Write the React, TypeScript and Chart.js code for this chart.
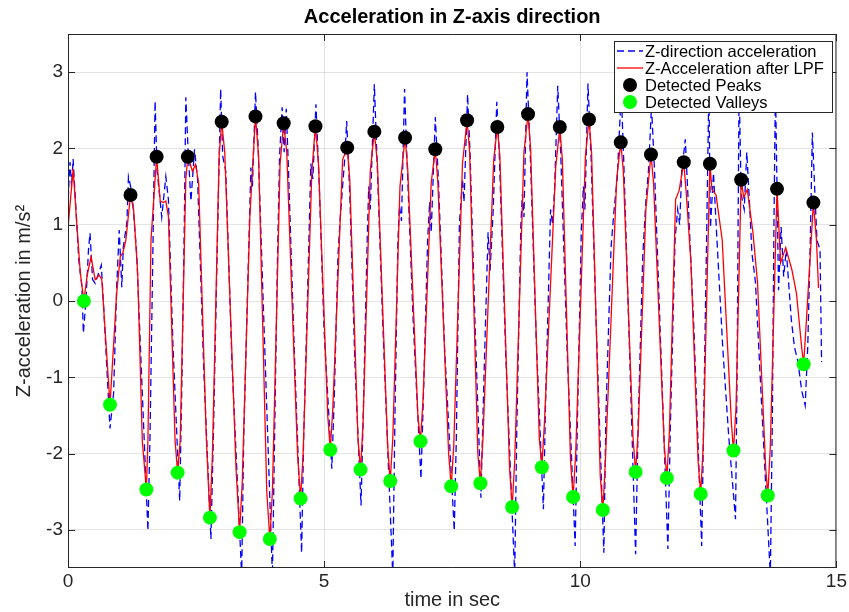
import React, { useEffect, useRef } from "react";
import { Chart, registerables } from "chart.js";

Chart.register(...registerables);

const FONT = '"Liberation Sans", Arial, Helvetica, sans-serif';
const AXIS_COLOR = "#262626";
const GRID_COLOR = "rgba(38,38,38,0.13)";

const chartTitle = "Acceleration in Z-axis direction";
const xLabel = "time in sec";
const yLabel = "Z-acceleration in m/s²";

const xTicks = [0, 5, 10, 15];
const yTicks = [-3, -2, -1, 0, 1, 2, 3];

// Raw Z-direction acceleration (dashed blue)
const rawTime = [
  0.0, 0.02, 0.04, 0.07, 0.1, 0.17, 0.21, 0.27, 0.3, 0.35, 0.4, 0.43, 0.48, 0.53, 0.6, 0.65, 0.69, 0.76, 0.82, 0.89,
  0.95, 1.0, 1.05, 1.08, 1.15, 1.18, 1.25, 1.34, 1.45, 1.56, 1.6, 1.66, 1.7, 1.74, 1.83, 1.91, 1.96, 2.05, 2.18, 2.22,
  2.27, 2.3, 2.35, 2.4, 2.47, 2.53, 2.65, 2.79, 2.84, 2.92, 2.98, 3.02, 3.08, 3.2, 3.39, 3.43, 3.52, 3.57, 3.6, 3.66,
  3.71, 3.8, 3.99, 4.03, 4.09, 4.13, 4.18, 4.22, 4.26, 4.3, 4.42, 4.56, 4.6, 4.68, 4.74, 4.78, 4.84, 4.9, 5.0, 5.15,
  5.2, 5.27, 5.31, 5.36, 5.4, 5.44, 5.5, 5.6, 5.72, 5.77, 5.84, 5.87, 5.9, 5.98, 6.03, 6.15, 6.34, 6.38, 6.44, 6.47,
  6.51, 6.57, 6.62, 6.74, 6.89, 6.94, 7.02, 7.06, 7.09, 7.17, 7.23, 7.35, 7.54, 7.58, 7.64, 7.7, 7.73, 7.8, 7.85, 7.95,
  8.06, 8.12, 8.2, 8.24, 8.3, 8.37, 8.42, 8.55, 8.72, 8.76, 8.84, 8.87, 8.9, 8.96, 9.02, 9.14, 9.28, 9.32, 9.42, 9.46,
  9.5, 9.56, 9.62, 9.74, 9.9, 9.94, 10.02, 10.06, 10.09, 10.15, 10.21, 10.32, 10.46, 10.5, 10.6, 10.66, 10.72, 10.8, 10.85, 10.95,
  11.08, 11.13, 11.22, 11.28, 11.33, 11.39, 11.45, 11.56, 11.71, 11.76, 11.85, 11.9, 11.94, 11.98, 12.05, 12.1, 12.22, 12.37, 12.41, 12.47,
  12.51, 12.54, 12.6, 12.66, 12.78, 12.9, 13.03, 13.06, 13.1, 13.14, 13.2, 13.25, 13.31, 13.35, 13.42, 13.55, 13.71, 13.75, 13.78, 13.81,
  13.87, 13.92, 13.97, 14.02, 14.12, 14.18, 14.25, 14.32, 14.39, 14.44, 14.49, 14.53, 14.58, 14.62, 14.68, 14.71,
];
const rawAccel = [
  1.2, 1.59, 1.82, 1.5, 1.86, 1.03, 0.54, 0.2, -0.42, 0.0, 0.67, 0.89, 0.28, 0.23, 0.37, 0.47, 0.0, -0.9, -1.67, -1.21,
  0.18, 0.93, 0.18, 0.71, 1.03, 1.63, 1.42, 0.63, -1.2, -3.01, -1.8, 0.8, 2.62, 1.7, 1.1, 1.63, 1.33, -0.6, -2.62, -1.2,
  1.0, 2.67, 1.9, 1.31, 1.99, 1.59, -0.9, -3.12, -1.7, 0.9, 2.78, 1.9, 1.7, -0.8, -3.6, -1.8, 0.5, 1.75, 1.5, 2.74,
  2.05, 0.2, -3.6, -1.9, 0.6, 1.9, 2.54, 1.95, 2.52, 1.8, -0.7, -3.3, -1.8, 0.2, 1.8, 1.6, 2.58, 1.6, -0.4, -2.2,
  -1.2, 0.6, 1.05, 1.5, 1.85, 2.36, 1.4, -0.8, -2.68, -1.3, 0.8, 1.5, 1.2, 2.84, 1.9, -0.4, -3.6, -1.6, 0.8, 1.25,
  1.05, 2.78, 1.8, -0.3, -2.33, -1.2, 0.8, 1.3, 0.9, 2.41, 1.6, -0.6, -3.01, -1.8, 1.0, 1.6, 1.3, 2.71, 1.9, -0.4,
  -2.58, -1.0, 0.9, 0.4, 1.2, 2.61, 1.9, -0.8, -3.6, -1.7, 1.0, 1.4, 1.1, 3.0, 2.0, -0.5, -2.73, -1.4, 1.2, 1.0,
  1.5, 2.82, 1.9, -0.6, -3.21, -1.7, 0.9, 1.5, 1.2, 2.85, 1.9, -0.5, -3.3, -1.5, 0.7, 1.2, 1.6, 2.75, 1.8, -0.4,
  -3.32, -1.6, 0.6, 1.3, 1.7, 2.55, 1.7, -0.4, -3.25, -1.6, 0.8, 1.2, 1.0, 1.7, 2.12, 1.4, -0.4, -3.21, -1.5, 1.0,
  2.8, 0.96, 1.68, 0.9, -0.6, -1.8, -2.86, -1.0, 2.85, 1.4, 1.2, 1.95, 1.2, 0.63, 0.24, -1.5, -3.6, -1.5, 1.0, 2.82,
  0.14, 0.97, 0.32, 0.67, -0.25, -0.6, -0.8, -1.17, -1.37, -0.6, 0.8, 2.21, 1.4, 0.8, 0.67, -0.8,
];

// Low-pass filtered acceleration (solid red)
const lpfTime = [
  0.0, 0.1, 0.17, 0.24, 0.31, 0.37, 0.45, 0.53, 0.61, 0.66, 0.82, 0.95, 1.02, 1.07, 1.13, 1.22, 1.28, 1.36, 1.45, 1.53,
  1.56, 1.62, 1.73, 1.8, 1.86, 1.91, 1.96, 2.09, 2.14, 2.19, 2.3, 2.34, 2.43, 2.49, 2.55, 2.7, 2.77, 2.82, 2.95, 3.0,
  3.06, 3.28, 3.35, 3.4, 3.55, 3.59, 3.66, 3.72, 3.88, 3.94, 3.99, 4.14, 4.21, 4.27, 4.48, 4.54, 4.59, 4.76, 4.83, 4.89,
  5.07, 5.12, 5.17, 5.36, 5.45, 5.5, 5.66, 5.71, 5.76, 5.9, 5.98, 6.04, 6.24, 6.29, 6.34, 6.48, 6.58, 6.63, 6.83, 6.88,
  6.93, 7.09, 7.17, 7.22, 7.43, 7.48, 7.53, 7.7, 7.79, 7.84, 8.0, 8.05, 8.1, 8.31, 8.38, 8.43, 8.62, 8.67, 8.72, 8.9,
  8.98, 9.03, 9.2, 9.25, 9.3, 9.52, 9.6, 9.65, 9.81, 9.86, 9.91, 10.1, 10.17, 10.22, 10.39, 10.44, 10.49, 10.71, 10.79, 10.84,
  11.03, 11.08, 11.13, 11.28, 11.38, 11.43, 11.64, 11.69, 11.74, 11.86, 11.93, 12.02, 12.07, 12.16, 12.3, 12.35, 12.4, 12.53, 12.57, 12.65,
  12.77, 12.95, 12.99, 13.04, 13.14, 13.19, 13.26, 13.37, 13.46, 13.62, 13.66, 13.71, 13.84, 13.91, 14.01, 14.13, 14.22, 14.32, 14.36, 14.41,
  14.55, 14.61, 14.65,
];
const lpfAccel = [
  0.95, 1.73, 1.03, 0.37, 0.0, 0.32, 0.58, 0.28, 0.34, 0.28, -1.36, 0.1, 0.58, 0.63, 0.8, 1.39, 1.2, 0.37, -1.83, -2.47,
  -1.83, 0.8, 1.89, 1.31, 1.29, 1.31, 1.11, -1.83, -2.25, -1.83, 1.6, 1.89, 1.7, 1.79, 1.55, -1.8, -2.84, -2.0, 1.9, 2.35,
  1.95, -2.2, -3.03, -2.4, 1.1, 1.6, 2.42, 1.9, -2.5, -3.12, -2.5, 1.8, 2.33, 1.95, -2.0, -2.59, -2.0, 1.7, 2.29, 1.8,
  -1.5, -1.95, -1.4, 1.85, 2.01, 1.6, -1.8, -2.21, -1.6, 1.7, 2.22, 1.8, -1.9, -2.36, -1.8, 1.5, 2.14, 1.75, -1.5, -1.84,
  -1.3, 1.55, 1.99, 1.55, -2.0, -2.43, -1.9, 1.8, 2.37, 1.95, -2.0, -2.39, -1.8, 1.85, 2.28, 1.9, -2.2, -2.7, -2.1, 1.95,
  2.45, 2.0, -1.8, -2.18, -1.6, 1.75, 2.28, 1.85, -2.1, -2.57, -2.0, 1.9, 2.38, 1.95, -2.3, -2.74, -2.1, 1.6, 2.08, 1.7,
  -1.8, -2.24, -1.7, 1.2, 1.92, 1.55, -1.9, -2.32, -1.7, 1.33, 1.45, 1.82, 1.4, 0.5, -2.1, -2.53, -1.9, 1.8, 1.46, 1.39,
  0.8, -1.6, -1.96, -1.4, 1.59, 1.36, 1.46, 0.9, 0.24, -2.2, -2.55, -1.9, 1.47, 0.5, 0.7, 0.41, 0.1, -0.6, -0.83, -0.3,
  1.29, 0.8, 0.17,
];

// Detected extrema of the filtered signal
const peakTime = [
  1.22, 1.73, 2.34, 3.0, 3.66, 4.21, 4.83, 5.45, 5.98, 6.58, 7.17, 7.79, 8.38, 8.98, 9.6, 10.17, 10.79, 11.38, 12.02, 12.53,
  13.14, 13.84, 14.55,
];
const peakAccel = [
  1.39, 1.89, 1.89, 2.35, 2.42, 2.33, 2.29, 2.01, 2.22, 2.14, 1.99, 2.37, 2.28, 2.45, 2.28, 2.38, 2.08, 1.92, 1.82, 1.8,
  1.59, 1.47, 1.29,
];
const valleyTime = [
  0.31, 0.82, 1.53, 2.14, 2.77, 3.35, 3.94, 4.54, 5.12, 5.71, 6.29, 6.88, 7.48, 8.05, 8.67, 9.25, 9.86, 10.44, 11.08, 11.69,
  12.35, 12.99, 13.66, 14.36,
];
const valleyAccel = [
  0.0, -1.36, -2.47, -2.25, -2.84, -3.03, -3.12, -2.59, -1.95, -2.21, -2.36, -1.84, -2.43, -2.39, -2.7, -2.18, -2.57, -2.74, -2.24, -2.32,
  -2.53, -1.96, -2.55, -0.83,
];

const toPoints = (xs: number[], ys: number[]) => xs.map((x, i) => ({ x, y: ys[i] }));

// MATLAB-style axes box with inward ticks, legend box and title
const framePlugin = {
  id: "frame",
  afterDatasetsDraw(chart: any) {
    const { ctx, chartArea: a, scales } = chart;
    const sx = scales.x;
    const sy = scales.y;
    ctx.save();
    ctx.strokeStyle = AXIS_COLOR;
    ctx.lineWidth = 1;
    ctx.setLineDash([]);
    ctx.beginPath();
    ctx.rect(a.left + 0.5, a.top + 0.5, a.right - a.left - 1, a.bottom - a.top - 1);
    const L = 7;
    sx.ticks.forEach((t: any) => {
      const px = Math.round(sx.getPixelForValue(t.value)) + 0.5;
      ctx.moveTo(px, a.bottom);
      ctx.lineTo(px, a.bottom - L);
      ctx.moveTo(px, a.top);
      ctx.lineTo(px, a.top + L);
    });
    sy.ticks.forEach((t: any) => {
      const py = Math.round(sy.getPixelForValue(t.value)) + 0.5;
      ctx.moveTo(a.left, py);
      ctx.lineTo(a.left + L, py);
      ctx.moveTo(a.right, py);
      ctx.lineTo(a.right - L, py);
    });
    ctx.stroke();

    // legend
    const ds = chart.data.datasets;
    const order = [3, 2, 0, 1];
    const lx = 614;
    const ly = 41;
    const lw = 218;
    const lh = 71;
    ctx.fillStyle = "#ffffff";
    ctx.fillRect(lx, ly, lw, lh);
    ctx.strokeStyle = AXIS_COLOR;
    ctx.strokeRect(lx + 0.5, ly + 0.5, lw, lh);
    ctx.font = `16.5px ${FONT}`;
    ctx.textBaseline = "middle";
    ctx.textAlign = "left";
    order.forEach((di, row) => {
      const d = ds[di];
      const cy = ly + 10 + row * 17;
      if (d.showLine === false) {
        ctx.beginPath();
        ctx.fillStyle = d.backgroundColor;
        ctx.arc(lx + 16, cy, 7, 0, Math.PI * 2);
        ctx.fill();
      } else {
        ctx.beginPath();
        ctx.strokeStyle = d.borderColor;
        ctx.lineWidth = d.borderWidth;
        ctx.setLineDash(d.borderDash || []);
        ctx.moveTo(lx + 3, cy);
        ctx.lineTo(lx + 29, cy);
        ctx.stroke();
        ctx.setLineDash([]);
      }
      ctx.fillStyle = "#000000";
      ctx.fillText(d.label, lx + 31, cy + 1);
    });
    ctx.restore();
  },
  afterDraw(chart: any) {
    const { ctx, chartArea: a } = chart;
    ctx.save();
    ctx.font = `bold 20px ${FONT}`;
    ctx.fillStyle = "#000000";
    ctx.textAlign = "center";
    ctx.textBaseline = "middle";
    ctx.fillText(chartTitle, (a.left + a.right) / 2, 17);
    ctx.restore();
  },
};

export default function App() {
  const canvasRef = useRef<HTMLCanvasElement | null>(null);

  useEffect(() => {
    const canvas = canvasRef.current;
    if (!canvas) return;
    const chart = new Chart(canvas, {
      type: "line",
      data: {
        datasets: [
          {
            label: "Detected Peaks",
            data: toPoints(peakTime, peakAccel),
            showLine: false,
            pointRadius: 7,
            pointStyle: "circle",
            backgroundColor: "#000000",
            borderColor: "#000000",
            pointBorderWidth: 0,
            order: 0,
          },
          {
            label: "Detected Valleys",
            data: toPoints(valleyTime, valleyAccel),
            showLine: false,
            pointRadius: 7,
            pointStyle: "circle",
            backgroundColor: "#00ff00",
            borderColor: "#00ff00",
            pointBorderWidth: 0,
            order: 1,
          },
          {
            label: "Z-Acceleration after LPF",
            data: toPoints(lpfTime, lpfAccel),
            borderColor: "#ff0000",
            borderWidth: 1.3,
            pointRadius: 0,
            tension: 0,
            order: 2,
          },
          {
            label: "Z-direction acceleration",
            data: toPoints(rawTime, rawAccel),
            borderColor: "#0000ff",
            borderWidth: 1.3,
            borderDash: [7, 4],
            pointRadius: 0,
            tension: 0,
            order: 3,
          },
        ],
      },
      options: {
        animation: false,
        responsive: false,
        events: [],
        layout: { padding: { top: 34, right: 11, left: 0, bottom: 0 } },
        plugins: {
          legend: { display: false },
          title: { display: false },
          tooltip: { enabled: false },
        },
        scales: {
          x: {
            type: "linear",
            min: 0,
            max: 15,
            afterBuildTicks: (s: any) => {
              s.ticks = xTicks.map((v) => ({ value: v }));
            },
            afterFit: (s: any) => {
              s.height = 44;
            },
            grid: { color: GRID_COLOR, drawTicks: false },
            border: { display: false },
            ticks: { font: { family: FONT, size: 19 }, color: AXIS_COLOR, padding: 2, maxRotation: 0 },
            title: {
              display: true,
              text: xLabel,
              font: { family: FONT, size: 20 },
              color: AXIS_COLOR,
              padding: { top: 0, bottom: 0 },
            },
          },
          y: {
            type: "linear",
            min: -3.5,
            max: 3.5,
            afterBuildTicks: (s: any) => {
              s.ticks = yTicks.map((v) => ({ value: v }));
            },
            afterFit: (s: any) => {
              s.width = 68;
            },
            grid: { color: GRID_COLOR, drawTicks: false },
            border: { display: false },
            ticks: { font: { family: FONT, size: 19 }, color: AXIS_COLOR, padding: 5 },
            title: {
              display: true,
              text: yLabel,
              font: { family: FONT, size: 20 },
              color: AXIS_COLOR,
              padding: { top: 12, bottom: 0 },
            },
          },
        },
      },
      plugins: [framePlugin],
    } as any);
    return () => chart.destroy();
  }, []);

  return (
    <div style={{ position: "absolute", left: 0, top: 0, width: 849, height: 612 }}>
      <canvas ref={canvasRef} width={849} height={612} style={{ display: "block" }} />
    </div>
  );
}
